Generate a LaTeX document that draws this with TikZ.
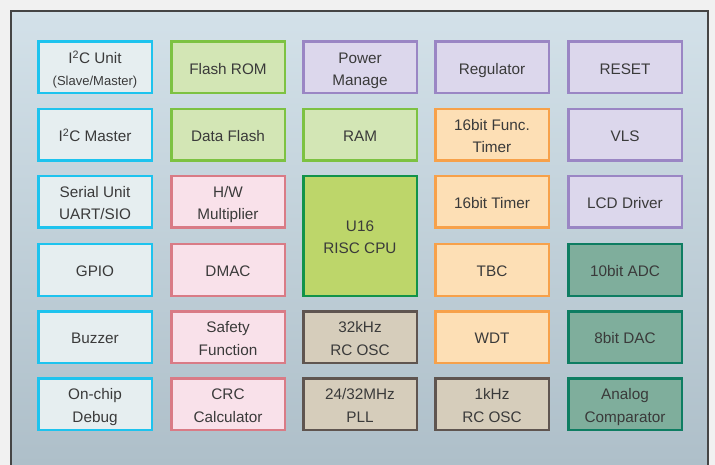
\documentclass[tikz,border=0pt]{standalone}
\usepackage{fontspec}
\setmainfont{Liberation Sans}
\definecolor{outerbg}{HTML}{F1F1F1}
\definecolor{frametop}{HTML}{D3E1E9}
\definecolor{framebot}{HTML}{AEBFC9}
\definecolor{framedraw}{HTML}{454545}
\definecolor{txt}{HTML}{3A3A3A}
\definecolor{cyanD}{HTML}{1EC3EE}\definecolor{cyanF}{HTML}{E6EEF0}
\definecolor{grnD}{HTML}{7DC242}\definecolor{grnF}{HTML}{D3E6B5}
\definecolor{purD}{HTML}{9A86C4}\definecolor{purF}{HTML}{DCD7EC}
\definecolor{orgD}{HTML}{F7A14A}\definecolor{orgF}{HTML}{FDDFB5}
\definecolor{pnkD}{HTML}{D97B86}\definecolor{pnkF}{HTML}{F9E1EA}
\definecolor{brnD}{HTML}{5F5550}\definecolor{brnF}{HTML}{D6CDBB}
\definecolor{tealD}{HTML}{0E7D62}\definecolor{tealF}{HTML}{7FAE9C}
\definecolor{cpuD}{HTML}{12934A}\definecolor{cpuF}{HTML}{BDD66A}
\newcommand\ls{\rule[-4.25pt]{0pt}{22.25pt}}
\tikzset{
  blk/.style={draw, line width=2.5pt, minimum width=113.5pt, minimum height=51.5pt,
    inner sep=0pt, align=center, text=txt, font=\fontsize{15.3}{22.25}\selectfont},
  cy/.style={blk, draw=cyanD, fill=cyanF},
  gr/.style={blk, draw=grnD, fill=grnF},
  pu/.style={blk, draw=purD, fill=purF},
  og/.style={blk, draw=orgD, fill=orgF},
  pk/.style={blk, draw=pnkD, fill=pnkF},
  bn/.style={blk, draw=brnD, fill=brnF},
  tl/.style={blk, draw=tealD, fill=tealF},
  cpu/.style={blk, draw=cpuD, fill=cpuF, minimum height=119.5pt}
}
\begin{document}
\begin{tikzpicture}[x=1pt,y=-1pt]
\useasboundingbox (0,0) rectangle (715,465);
\fill[outerbg] (0,0) rectangle (715,465);
\shade[top color=frametop, bottom color=framebot] (11,11) rectangle (708,465);
\draw[framedraw, line width=1.8pt] (11,465) -- (11,11) -- (708,11) -- (708,465);
% column centres 95 228 360 492 625 ; row centres 68 135 202 270 337 404
\node[cy] (i2cu) at (95,67.5) {\ls I\textsuperscript{2}C Unit\\\ls{\fontsize{13}{22.25}\selectfont (Slave/Master)}};
\node[cy] (i2cm) at (95,135) {\ls I\textsuperscript{2}C Master};
\node[cy] (ser) at (95,202) {\ls Serial Unit\\\ls UART/SIO};
\node[cy] (gpio) at (95,270) {\ls GPIO};
\node[cy] (buz) at (95,337) {\ls Buzzer};
\node[cy] (dbg) at (95,404) {\ls On-chip\\\ls Debug};
\node[gr] (from) at (228,67.5) {\ls Flash ROM};
\node[gr] (dfl) at (228,135) {\ls Data Flash};
\node[pk] (mul) at (228,202) {\ls H/W\\\ls Multiplier};
\node[pk] (dmac) at (228,270) {\ls DMAC};
\node[pk] (safe) at (228,337) {\ls Safety\\\ls Function};
\node[pk] (crc) at (228,404) {\ls CRC\\\ls Calculator};
\node[pu] (pwr) at (360,67.5) {\ls Power\\\ls Manage};
\node[gr] (ram) at (360,135) {\ls RAM};
\node[cpu] (cpu) at (360,236) {\ls U16\\\ls RISC CPU};
\node[bn] (osc32) at (360,337) {\ls 32kHz\\\ls RC OSC};
\node[bn] (pll) at (360,404) {\ls 24/32MHz\\\ls PLL};
\node[pu] (reg) at (492,67.5) {\ls Regulator};
\node[og] (ft) at (492,135) {\ls 16bit Func.\\\ls Timer};
\node[og] (t16) at (492,202) {\ls 16bit Timer};
\node[og] (tbc) at (492,270) {\ls TBC};
\node[og] (wdt) at (492,337) {\ls WDT};
\node[bn] (osc1) at (492,404) {\ls 1kHz\\\ls RC OSC};
\node[pu] (rst) at (625,67.5) {\ls RESET};
\node[pu] (vls) at (625,135) {\ls VLS};
\node[pu] (lcd) at (625,202) {\ls LCD Driver};
\node[tl] (adc) at (625,270) {\ls 10bit ADC};
\node[tl] (dac) at (625,337) {\ls 8bit DAC};
\node[tl] (cmp) at (625,404) {\ls Analog\\\ls Comparator};
\end{tikzpicture}
\end{document}
